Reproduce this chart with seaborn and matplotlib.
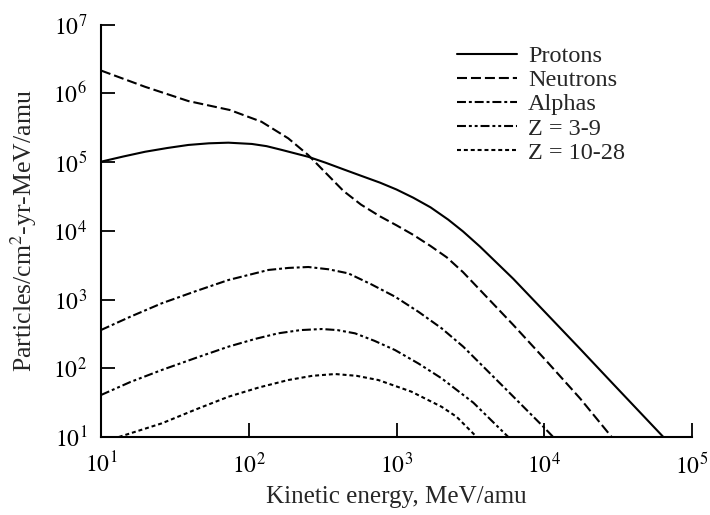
import numpy as np
import pandas as pd
import matplotlib
matplotlib.use("Agg")
import matplotlib.pyplot as plt
import seaborn as sns

# ---- data ----
proton_E = [10, 14.1, 19.9, 28.2, 39.0, 53.7, 72.8, 105, 132, 167, 253, 331, 437, 575, 773,
            1000, 1300, 1700, 2240, 2820, 3670, 6170, 10400, 17500, 29300, 64000]
proton_F = [1.01e5, 1.20e5, 1.41e5, 1.60e5, 1.77e5, 1.87e5, 1.91e5, 1.83e5, 1.70e5, 1.50e5,
            1.19e5, 9.77e4, 7.83e4, 6.31e4, 5.01e4, 3.98e4, 3.02e4, 2.19e4, 1.45e4, 9770,
            5890, 2000, 617, 191, 58.9, 10]

neutron_E = [10, 19.9, 39, 74.6, 122, 185, 253, 437, 575, 773, 1000, 1300, 1700, 2190,
             2820, 3670, 6170, 10400, 17500, 28600]
neutron_F = [2.14e6, 1.24e6, 7.7e5, 5.7e5, 3.85e5, 2.21e5, 1.26e5, 3.8e4, 2.4e4, 1.62e4,
             1.2e4, 8.7e3, 6.0e3, 4.1e3, 2.5e3, 1.38e3, 427, 126, 36.3, 10]

alpha_E = [10, 15.8, 25.8, 43.7, 72.8, 136, 186, 253, 347, 472, 676, 977, 1410, 2020,
           2830, 5570, 9860, 11500]
alpha_F = [360, 562, 881, 1320, 1920, 2690, 2880, 2970, 2750, 2400, 1660, 1100, 661, 381,
           206, 48.3, 14.1, 10]

z39_E = [10, 15.8, 25.8, 43.7, 72.8, 112, 158, 224, 312, 398, 524, 708, 977, 1410, 2020, 3310, 5710]
z39_F = [40.8, 63.1, 94.4, 141, 206, 269, 322, 359, 372, 359, 322, 251, 184, 117, 71.3, 31.6, 10]

z1028_E = [13.2, 25.8, 43.7, 72.8, 117, 185, 269, 384, 537, 753, 1260, 2020, 2550, 3490]
z1028_F = [10, 15.8, 25.1, 38.5, 52.5, 67.4, 77.6, 82.4, 77.6, 67.4, 45.7, 27.5, 19.7, 10]

series_names = ["Protons", "Neutrons", "Alphas", "Z = 3-9", "Z = 10-28"]
x_ticks = [1e1, 1e2, 1e3, 1e4, 1e5]
x_tick_labels = [r"$10^{1}$", r"$10^{2}$", r"$10^{3}$", r"$10^{4}$", r"$10^{5}$"]
y_ticks = [1e1, 1e2, 1e3, 1e4, 1e5, 1e6, 1e7]
y_tick_labels = [r"$10^{1}$", r"$10^{2}$", r"$10^{3}$", r"$10^{4}$", r"$10^{5}$", r"$10^{6}$", r"$10^{7}$"]

frames = []
for name, E, F in zip(series_names,
                      [proton_E, neutron_E, alpha_E, z39_E, z1028_E],
                      [proton_F, neutron_F, alpha_F, z39_F, z1028_F]):
    frames.append(pd.DataFrame({"E": E, "F": F, "series": name}))
df = pd.concat(frames, ignore_index=True)

# ---- style ----
sns.set_theme(style="ticks")
plt.rcParams["font.family"] = ["Liberation Serif", "DejaVu Serif"]
plt.rcParams["mathtext.fontset"] = "stix"

fig = plt.figure(figsize=(7.10, 5.15), dpi=100)
ax = fig.add_axes([101 / 710, 1 - 437 / 515, (692 - 101) / 710, (437 - 24.5) / 515])

dashes = {
    "Protons": "",
    "Neutrons": (4.8, 1.9),
    "Alphas": (4.3, 1.4, 1.4, 1.4),
    "Z = 3-9": (4.3, 1.4, 1.4, 1.4, 1.4, 1.4),
    "Z = 10-28": (1.9, 1.4),
}
palette = {n: "black" for n in series_names}

sns.lineplot(data=df, x="E", y="F", hue="series", style="series",
             hue_order=series_names, style_order=series_names,
             palette=palette, dashes=dashes, linewidth=1.5,
             sort=False, estimator=None, ax=ax, legend=True)

ax.set_xscale("log")
ax.set_yscale("log")
ax.set_xlim(1e1, 1e5)
ax.set_ylim(1e1, 1e7)
ax.set_xticks(x_ticks)
ax.set_xticklabels(x_tick_labels)
ax.set_yticks(y_ticks)
ax.set_yticklabels(y_tick_labels)
ax.minorticks_off()
ax.tick_params(direction="in", length=10, width=1.3, labelsize=17, colors="black")
ax.tick_params(axis="x", pad=11)
ax.tick_params(axis="y", pad=10)
for s in ["top", "right"]:
    ax.spines[s].set_visible(False)
for s in ["left", "bottom"]:
    ax.spines[s].set_linewidth(1.5)
    ax.spines[s].set_color("black")

ax.set_xlabel("Kinetic energy, MeV/amu", fontsize=18, labelpad=6)
ax.set_ylabel(r"Particles/cm$^{2}$-yr-MeV/amu", fontsize=18.5, labelpad=10)

handles, labels = ax.get_legend_handles_labels()
leg = ax.legend(handles, labels, loc="upper left", frameon=False,
                bbox_to_anchor=(457 / 710, 1 - 45 / 515), bbox_transform=fig.transFigure,
                fontsize=17.5, handlelength=2.47, handletextpad=0.45,
                labelspacing=0.09, borderpad=0, borderaxespad=0)
for line in leg.get_lines():
    line.set_linewidth(1.5)

fig.savefig("out.png", dpi=100)
